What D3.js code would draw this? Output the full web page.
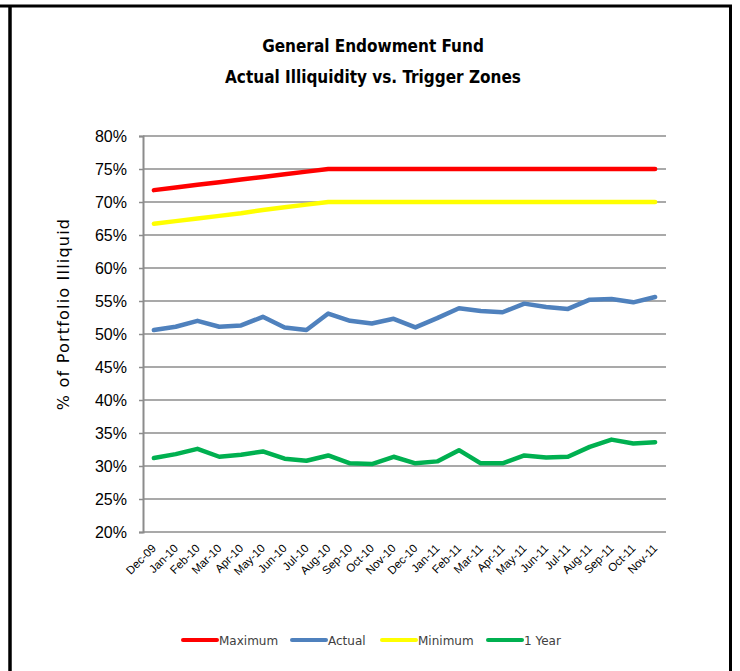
<!DOCTYPE html>
<html>
<head>
<meta charset="utf-8">
<script src="https://cdn.jsdelivr.net/npm/d3@7"></script>
<style>
  html, body { margin: 0; padding: 0; background: #fff; }
  svg { display: block; }
</style>
</head>
<body>
<div id="chart"></div>
<script>
// Illiquidity vs trigger zones, monthly Dec-09 .. Nov-11

const months = ['Dec-09', 'Jan-10', 'Feb-10', 'Mar-10', 'Apr-10', 'May-10', 'Jun-10', 'Jul-10',
  'Aug-10', 'Sep-10', 'Oct-10', 'Nov-10', 'Dec-10', 'Jan-11', 'Feb-11', 'Mar-11', 'Apr-11',
  'May-11', 'Jun-11', 'Jul-11', 'Aug-11', 'Sep-11', 'Oct-11', 'Nov-11'];

const maximum = [71.8, 72.2, 72.6, 73.0, 73.4, 73.8, 74.2, 74.6, 75, 75, 75, 75, 75, 75, 75, 75,
  75, 75, 75, 75, 75, 75, 75, 75];
const actual = [50.6, 51.1, 52.0, 51.1, 51.3, 52.6, 51.0, 50.6, 53.1, 52.0, 51.6, 52.3, 51.0, 52.4,
  53.9, 53.5, 53.3, 54.6, 54.1, 53.8, 55.2, 55.3, 54.8, 55.6];
const minimum = [66.7, 67.1, 67.5, 67.9, 68.3, 68.8, 69.2, 69.6, 70, 70, 70, 70, 70, 70, 70, 70,
  70, 70, 70, 70, 70, 70, 70, 70];
const oneYear = [31.2, 31.8, 32.6, 31.4, 31.7, 32.2, 31.1, 30.8, 31.6, 30.4, 30.3, 31.4, 30.4, 30.7,
  32.4, 30.4, 30.4, 31.6, 31.3, 31.4, 32.9, 34.0, 33.4, 33.6];

const yTicks = [20, 25, 30, 35, 40, 45, 50, 55, 60, 65, 70, 75, 80];

const series = [
  { name: 'Maximum', values: maximum, color: '#ff0000' },
  { name: 'Actual',  values: actual,  color: '#4f81bd' },
  { name: 'Minimum', values: minimum, color: '#ffff00' },
  { name: '1 Year',  values: oneYear, color: '#00b050' },
];

const W = 740, H = 671;
const margin = { top: 136, right: 74, bottom: 139, left: 143 };

const svg = d3.select('#chart').append('svg')
  .attr('width', W).attr('height', H);

// outer frame
svg.append('line').attr('x1', 0).attr('x2', 732).attr('y1', 6).attr('y2', 6)
  .attr('stroke', '#000').attr('stroke-width', 3);
svg.append('line').attr('x1', 10).attr('x2', 10).attr('y1', 6).attr('y2', H)
  .attr('stroke', '#000').attr('stroke-width', 3.5);
svg.append('line').attr('x1', 730.5).attr('x2', 730.5).attr('y1', 6).attr('y2', H)
  .attr('stroke', '#000').attr('stroke-width', 3);

// title
const titleFont = '"DejaVu Sans Condensed", "Liberation Sans", sans-serif';
svg.append('text').attr('x', 373).attr('y', 52)
  .attr('text-anchor', 'middle').attr('font-family', titleFont)
  .attr('font-weight', 'bold').attr('font-size', 17).attr('fill', '#000')
  .text('General Endowment Fund');
svg.append('text').attr('x', 373).attr('y', 83)
  .attr('text-anchor', 'middle').attr('font-family', titleFont)
  .attr('font-weight', 'bold').attr('font-size', 17).attr('fill', '#000')
  .text('Actual Illiquidity vs. Trigger Zones');

const x = d3.scaleBand()
  .domain(months)
  .range([margin.left, W - margin.right]);

const y = d3.scaleLinear()
  .domain([20, 80])
  .range([H - margin.bottom, margin.top]);

// gridlines
svg.append('g')
  .selectAll('line').data(yTicks).join('line')
  .attr('x1', margin.left).attr('x2', W - margin.right)
  .attr('y1', d => y(d)).attr('y2', d => y(d))
  .attr('stroke', '#8c8c8c').attr('stroke-width', 1.5);

// y axis
svg.append('g')
  .attr('transform', `translate(${margin.left},0)`)
  .call(d3.axisLeft(y).tickValues(yTicks).tickSize(4).tickPadding(12).tickFormat(d => `${d}%`))
  .call(g => g.select('.domain').attr('stroke', '#8c8c8c').attr('stroke-width', 2))
  .call(g => g.selectAll('.tick line').attr('stroke', '#8c8c8c').attr('stroke-width', 1.5))
  .call(g => g.selectAll('text')
    .attr('font-family', '"Liberation Sans", sans-serif')
    .attr('font-size', 16).attr('fill', '#000'));

// x axis labels
svg.append('g')
  .attr('transform', `translate(0,${H - margin.bottom})`)
  .call(d3.axisBottom(x).tickSize(0).tickPadding(0))
  .call(g => g.select('.domain').remove())
  .call(g => g.selectAll('text')
    .attr('font-family', '"Liberation Sans", sans-serif')
    .attr('font-size', 11.5).attr('fill', '#000')
    .attr('text-anchor', 'end')
    .attr('dy', 0)
    .attr('transform', 'translate(3,17) rotate(-45)'));

// y axis title
svg.append('text')
  .attr('transform', 'translate(69,314) rotate(-90)')
  .attr('text-anchor', 'middle')
  .attr('font-family', '"DejaVu Sans", sans-serif')
  .attr('font-size', 16).attr('letter-spacing', 1.2).attr('fill', '#000')
  .text('% of Portfolio Illiquid');

// lines
const line = d3.line()
  .x((d, i) => x(months[i]) + x.bandwidth() / 2)
  .y(d => y(d));

svg.append('g')
  .selectAll('path').data(series).join('path')
  .attr('fill', 'none')
  .attr('stroke', d => d.color)
  .attr('stroke-width', 4.5)
  .attr('stroke-linejoin', 'round')
  .attr('stroke-linecap', 'round')
  .attr('d', d => line(d.values));

// legend
const legendX = [183, 292, 382, 488];
const legend = svg.append('g')
  .selectAll('g').data(series).join('g')
  .attr('transform', (d, i) => `translate(${legendX[i]},640)`);
legend.append('line')
  .attr('x1', 0).attr('x2', 34).attr('y1', 0).attr('y2', 0)
  .attr('stroke', d => d.color).attr('stroke-width', 4)
  .attr('stroke-linecap', 'round');
legend.append('text')
  .attr('x', 36).attr('y', 4.5)
  .attr('font-family', '"DejaVu Sans", sans-serif')
  .attr('font-size', 12).attr('fill', '#404040')
  .text(d => d.name);
</script>
</body>
</html>
